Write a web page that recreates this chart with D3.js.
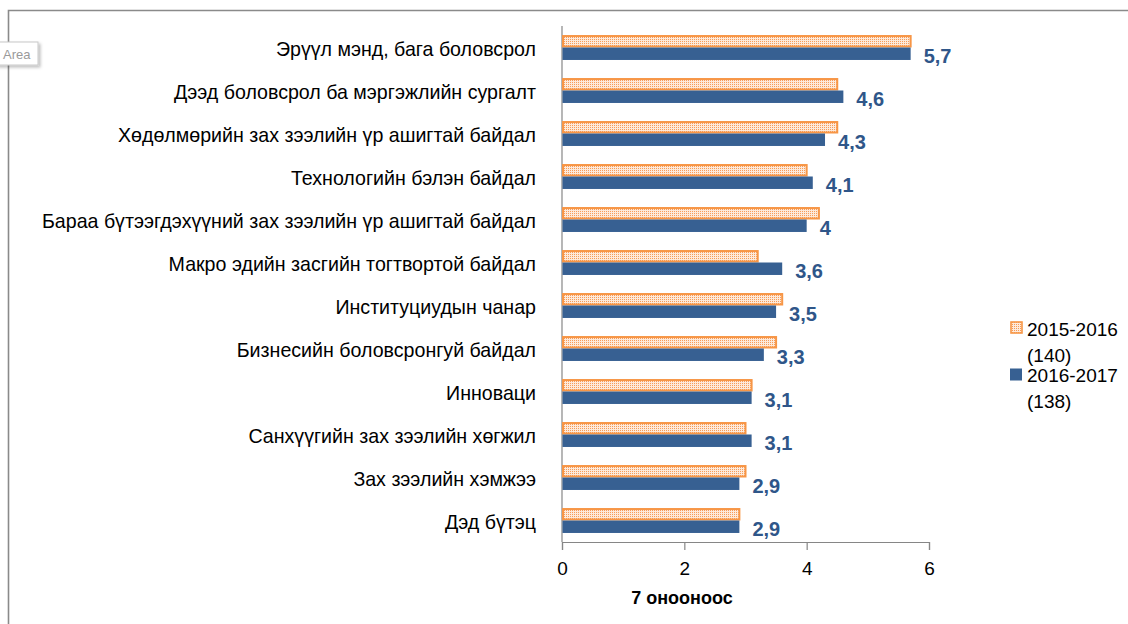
<!DOCTYPE html>
<html><head><meta charset="utf-8">
<script src="https://cdn.jsdelivr.net/npm/d3@7"></script>
<style>
html,body{margin:0;padding:0;background:#fff;}
svg{display:block;}
text{font-family:"Liberation Sans",Arial,sans-serif;}
</style></head>
<body>
<svg id="chart" width="1128" height="624"></svg>
<script>
const categories = [
  "Эрүүл мэнд, бага боловсрол",
  "Дээд боловсрол ба мэргэжлийн сургалт",
  "Хөдөлмөрийн зах зээлийн үр ашигтай байдал",
  "Технологийн бэлэн байдал",
  "Бараа бүтээгдэхүүний зах зээлийн үр ашигтай байдал",
  "Макро эдийн засгийн тогтвортой байдал",
  "Институциудын чанар",
  "Бизнесийн боловсронгуй байдал",
  "Инноваци",
  "Санхүүгийн зах зээлийн хөгжил",
  "Зах зээлийн хэмжээ",
  "Дэд бүтэц"
];
const series2015 = [5.7, 4.5, 4.5, 4.0, 4.2, 3.2, 3.6, 3.5, 3.1, 3.0, 3.0, 2.9];
const series2016 = [5.7, 4.6, 4.3, 4.1, 4.0, 3.6, 3.5, 3.3, 3.1, 3.1, 2.9, 2.9];
const seriesNames = ["2015-2016", "2016-2017"];
const legendSub = ["(140)", "(138)"];
const xTicks = [0, 2, 4, 6];
const xTitle = "7 онооноос";

const svg = d3.select("#chart");
const blue = "#376092", orange = "#f79646", labelBlue = "#2f5689";

// pattern for 2015-2016 bars
const defs = svg.append("defs");
const pat = defs.append("pattern").attr("id","dots").attr("width",2).attr("height",2)
  .attr("patternUnits","userSpaceOnUse");
pat.append("rect").attr("width",2).attr("height",2).attr("fill","#fdeadb");
pat.append("rect").attr("width",1).attr("height",1).attr("fill","#f79a55");
const sh = defs.append("filter").attr("id","shadow").attr("x","-20%").attr("y","-20%").attr("width","150%").attr("height","160%");
sh.append("feDropShadow").attr("dx",2).attr("dy",2).attr("stdDeviation",1.5).attr("flood-color","#000").attr("flood-opacity",0.25);

// outer frame
svg.append("path").attr("d","M8.5,624 V10.5 H1128").attr("fill","none")
  .attr("stroke","#8a8a8a").attr("stroke-width",1.6);

const x = d3.scaleLinear().domain([0, 6]).range([562, 929]);
const y = d3.scaleBand().domain(categories).range([26, 542]).paddingInner(0.42).paddingOuter(0.21);
const ys = d3.scaleBand().domain(seriesNames).range([0, y.bandwidth()]);

const data = categories.map((c, i) => ({c, v: [series2015[i], series2016[i]]}));

// x axis
const xAxis = svg.append("g").attr("transform", `translate(0,${y.range()[1]})`)
  .call(d3.axisBottom(x).tickValues(xTicks).tickSize(8).tickPadding(12).tickFormat(d3.format("d")));
xAxis.select(".domain").attr("stroke","#868686").attr("stroke-width",1.2);
xAxis.selectAll(".tick line").attr("stroke","#868686").attr("stroke-width",1.2);
xAxis.selectAll(".tick text").attr("font-size",19).attr("fill","#000")
  .style("font-family","'Liberation Sans',Arial,sans-serif");

// y axis line
svg.append("line").attr("x1",x(0)).attr("x2",x(0)).attr("y1",y.range()[0]).attr("y2",y.range()[1])
  .attr("stroke","#868686").attr("stroke-width",1.2);

// bars
const rows = svg.append("g").selectAll("g").data(data).join("g")
  .attr("transform", d => `translate(0,${y(d.c)})`);
rows.append("rect")
  .attr("x", x(0)+1).attr("y", ys(seriesNames[0]) + 1)
  .attr("width", d => x(d.v[0]) - x(0) - 1).attr("height", ys.bandwidth() - 2)
  .attr("fill","url(#dots)").attr("stroke",orange).attr("stroke-width",2);
rows.append("rect")
  .attr("x", x(0)+0.5).attr("y", ys(seriesNames[1]))
  .attr("width", d => x(d.v[1]) - x(0) - 0.5).attr("height", ys.bandwidth())
  .attr("fill",blue);
rows.append("text")
  .attr("x", d => x(d.v[1]) + 13)
  .attr("y", ys(seriesNames[1]) + ys.bandwidth()/2 + 2)
  .attr("dominant-baseline","central")
  .attr("font-size",20).attr("font-weight","bold").attr("fill",labelBlue)
  .text(d => String(d.v[1]).replace(".", ","));

// category labels
const cat = svg.append("g").selectAll("text").data(categories).join("text")
  .attr("x", 536).attr("y", d => y(d) + y.bandwidth()/2 + 1)
  .attr("text-anchor","end").attr("dominant-baseline","central")
  .attr("font-size",20).attr("fill","#000").text(d => d);
// fit font size so longest label spans like the reference
let maxW = 0; cat.each(function(){ maxW = Math.max(maxW, this.getComputedTextLength()); });
const fs = 20 * 494 / maxW;
cat.attr("font-size", fs.toFixed(2));

// axis title
svg.append("text").attr("x", 682).attr("y", 598).attr("text-anchor","middle")
  .attr("dominant-baseline","central").attr("font-size",18).attr("font-weight","bold")
  .attr("fill","#000").text(xTitle);

// legend
const lg = svg.append("g");
seriesNames.forEach((s, i) => {
  const top = 322 + i * 46.5;
  if (i === 0) {
    lg.append("rect").attr("x",1011).attr("y",top).attr("width",11).attr("height",11)
      .attr("fill","url(#dots)").attr("stroke",orange).attr("stroke-width",1.6);
  } else {
    lg.append("rect").attr("x",1010).attr("y",top).attr("width",12).attr("height",12).attr("fill",blue);
  }
  lg.append("text").attr("x",1027).attr("y",top+7).attr("dominant-baseline","central")
    .attr("font-size",19).attr("fill","#000").text(s);
  lg.append("text").attr("x",1027).attr("y",top+33).attr("dominant-baseline","central")
    .attr("font-size",19).attr("fill","#000").text(legendSub[i]);
});

// "Area" tooltip artifact
const tip = svg.append("g");
tip.append("rect").attr("x",-4).attr("y",42).attr("width",42).attr("height",23)
  .attr("fill","#fff").attr("stroke","#c8c8c8").attr("stroke-width",1).attr("filter","url(#shadow)");
tip.append("text").attr("x",3).attr("y",54).attr("dominant-baseline","central")
  .attr("font-size",13).attr("fill","#9a9a9a").text("Area");
</script>
</body></html>
